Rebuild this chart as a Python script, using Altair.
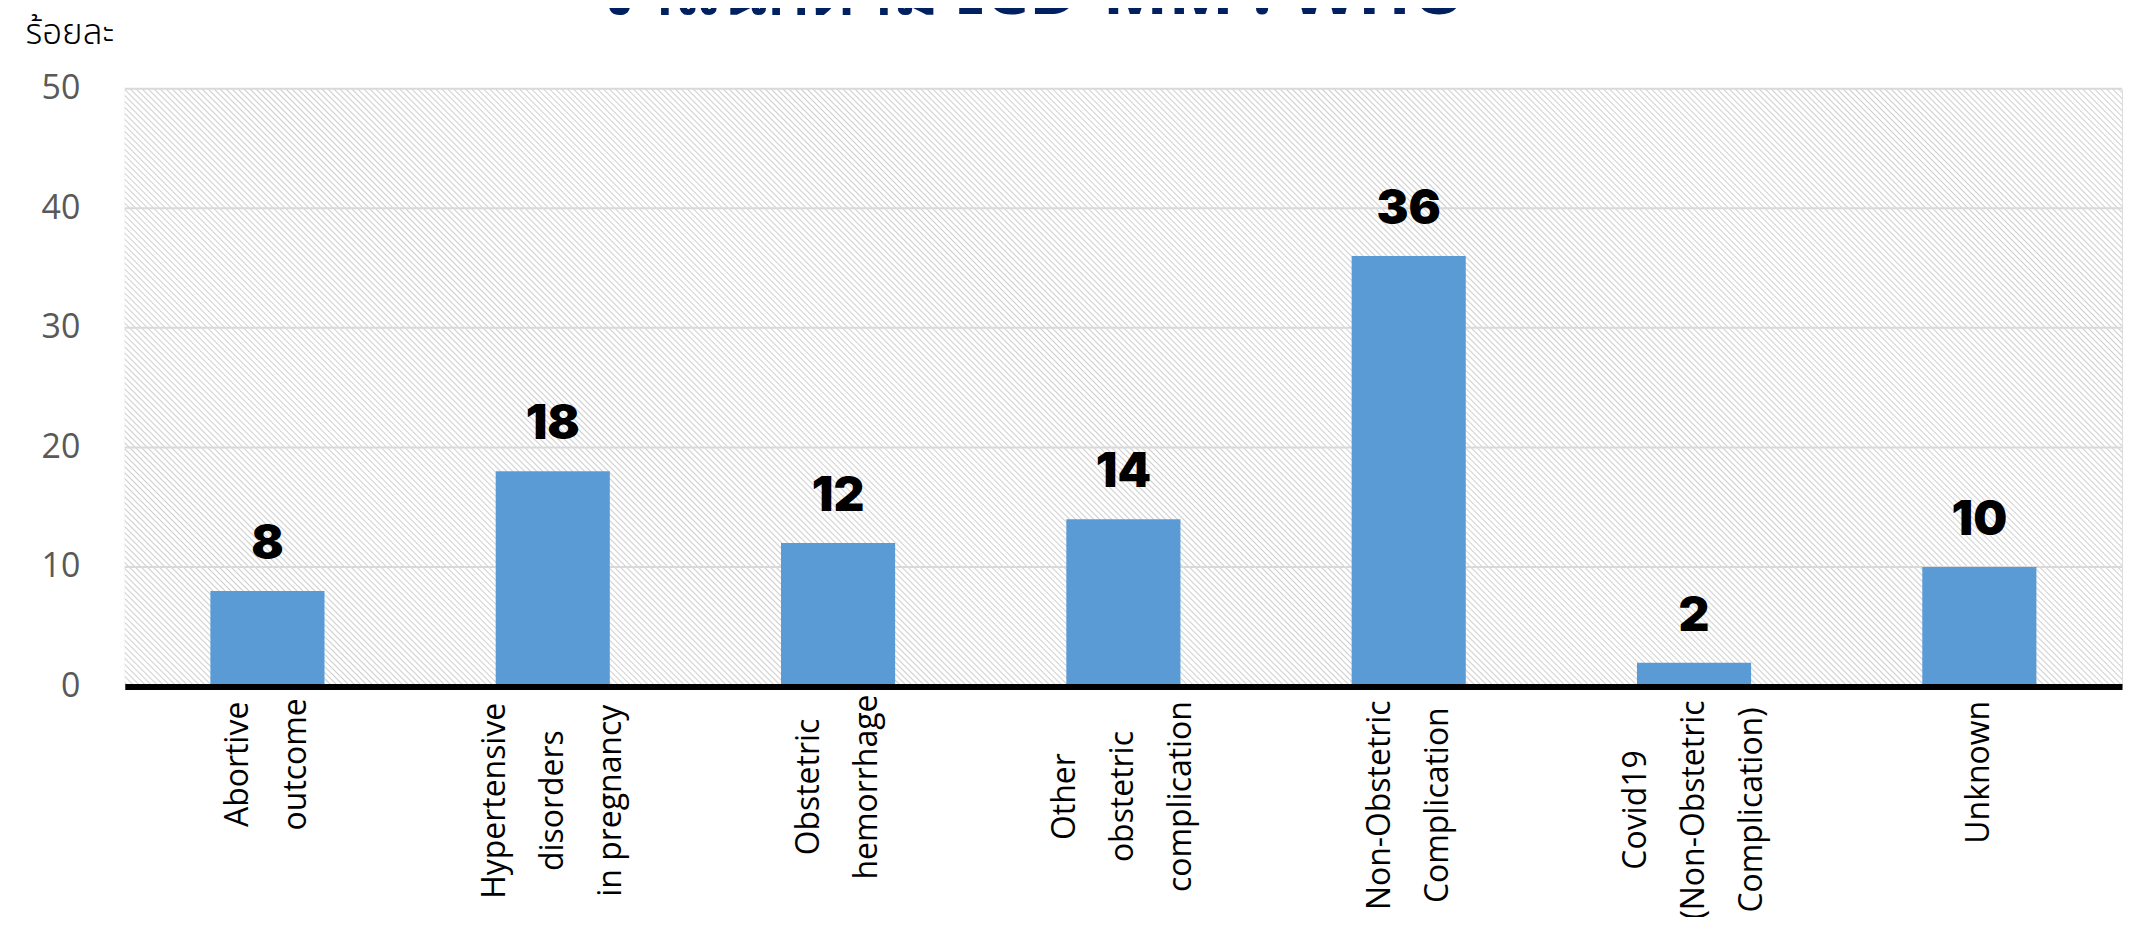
import altair as alt
import pandas as pd

# ---- data ----
CATEGORY_LINES = [
    ["Abortive", "outcome"],
    ["Hypertensive", "disorders", "in pregnancy"],
    ["Obstetric", "hemorrhage"],
    ["Other", "obstetric", "complication"],
    ["Non-Obstetric", "Complication"],
    ["Covid19", "(Non-Obstetric", "Complication)"],
    ["Unknown"],
]
VALUES = [8, 18, 12, 14, 36, 2, 10]
Y_TICKS = [0, 10, 20, 30, 40, 50]
GRID_TICKS = [10, 20, 30, 40, 50]
Y_TITLE = "ร้อยละ"
TITLE = "จำแนกตาม ICD-MM : WHO"

CATEGORIES = ["|".join(c) for c in CATEGORY_LINES]
df = pd.DataFrame({"cat": CATEGORIES, "val": VALUES})
grid_df = pd.DataFrame({"g": GRID_TICKS})

W, H = 2001, 599
LABEL_FS = 32
LINE_H = 58

# diagonal hatch background as a striped linear gradient ("\" direction, 45 deg)
r = H / W
s = (1 + r) / (1 + r * r)
period = 6.0 / (W + H)
stops = []
k = 0
while k * period < 1:
    b0 = k * period
    for frac, col in [(0.0, "#ffffff"), (0.45, "#ffffff"), (0.7, "#d0d0d0"), (0.95, "#ffffff")]:
        off = b0 + frac * period
        if off <= 1:
            stops.append({"offset": round(off, 6), "color": col})
    k += 1
hatch = {"gradient": "linear", "x1": 0, "y1": 1, "x2": s, "y2": 1 - r * s, "stops": stops}

y_scale = alt.Scale(domain=[0, 50], nice=False)

background = alt.Chart(pd.DataFrame({"k": [0]})).mark_rect(fill=hatch).encode(
    x=alt.value(0), x2=alt.value(W), y=alt.value(0), y2=alt.value(H)
)

grid = alt.Chart(grid_df).mark_rule(color="#d9d9d9", strokeWidth=2).encode(
    y=alt.Y("g:Q", scale=y_scale), x=alt.value(0), x2=alt.value(W)
)

# rough text-width estimate (in em) of each label line, used to centre the
# stacked, rotated lines below the axis like the original
def line_em(i):
    ln = f"(split(datum.label, '|')[{i}] || '')"
    narrow = f"(length({ln}) - length(replace({ln}, regexp('[ijlt()fr1 -]', 'g'), '')))"
    wide = f"(length({ln}) - length(replace({ln}, regexp('[mwMWNOHUCD]', 'g'), '')))"
    return f"(0.56 * length({ln}) - 0.26 * {narrow} + 0.24 * {wide})"

max_em = f"max({line_em(0)}, {line_em(1)}, {line_em(2)})"
label_pad = f"15 + 0.5 * {LABEL_FS} * {max_em}"
label_off = f"-(length(split(datum.label, '|')) - 1) * {LINE_H / 2}"

base = alt.Chart(df).encode(
    x=alt.X(
        "cat:N",
        sort=None,
        scale=alt.Scale(paddingInner=0.6, paddingOuter=0.3),
        axis=alt.Axis(
            title=None,
            labelAngle=-90,
            labelAlign="center",
            labelBaseline="middle",
            labelExpr="split(datum.label, '|')",
            labelFont="Open Sans",
            labelFontSize=LABEL_FS,
            labelColor="#000000",
            labelLineHeight=LINE_H,
            labelPadding={"expr": label_pad},
            labelOffset={"expr": label_off},
            labelLimit=500,
            labelOverlap=False,
            ticks=False,
            domainColor="#000000",
            domainWidth=6,
            grid=False,
            zindex=1,
        ),
    ),
    y=alt.Y(
        "val:Q",
        scale=y_scale,
        axis=alt.Axis(
            values=Y_TICKS,
            title=Y_TITLE,
            titleAngle=0,
            titleX=-100,
            titleY=-45,
            titleAlign="left",
            titleBaseline="alphabetic",
            titleFont="Noto Sans Thai, Noto Sans, sans-serif",
            titleFontSize=35,
            titleFontWeight=300,
            titleColor="#000000",
            labelFont="Open Sans",
            labelFontSize=34,
            labelColor="#595959",
            labelPadding=45,
            domain=False,
            ticks=False,
            grid=False,
        ),
    ),
)

bars = base.mark_bar(color="#5B9BD5")
labels = base.mark_text(
    dy=-32,
    baseline="alphabetic",
    align="center",
    font="Inter",
    fontWeight=900,
    fontSize=48,
    color="#000000",
).encode(text=alt.Text("val:Q"))

title = alt.Chart(pd.DataFrame({"t": [TITLE]})).mark_text(
    align="center",
    baseline="alphabetic",
    font="Noto Sans",
    fontSize=70,
    fontWeight="bold",
    color="#002060",
).encode(text="t:N", x=alt.value(907), y=alt.value(-75))

chart = (
    alt.layer(background, grid, bars, labels, title)
    .properties(
        width=W,
        height=H,
        autosize=alt.AutoSizeParams(type="none"),
        padding={"left": 117, "top": 80, "right": 2, "bottom": 230},
    )
    .configure_view(stroke=None)
    .configure(background="#ffffff")
)

chart.save("out.html", embed_options={"renderer": "svg", "actions": False})
